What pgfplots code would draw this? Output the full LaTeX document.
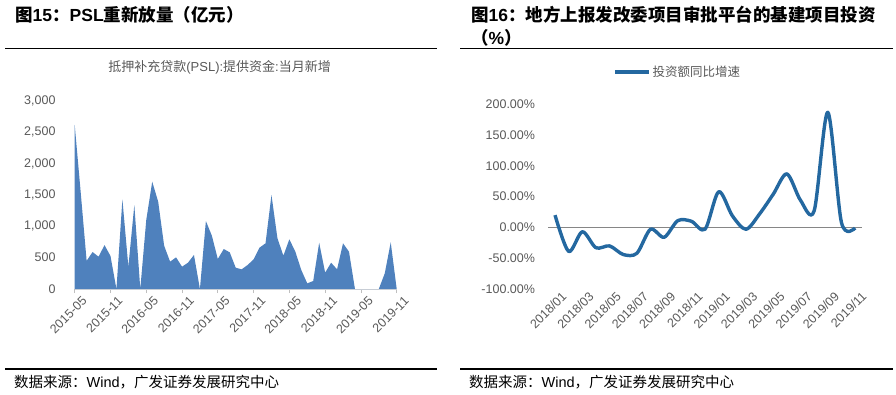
\documentclass[border=0pt]{standalone}
\usepackage{fontspec}
\setmainfont{Liberation Sans}
\newfontfamily\cjk{Noto Sans CJK SC}
\usepackage{pgfplots}
\pgfplotsset{compat=1.18}
\definecolor{areablue}{RGB}{79,129,189}
\definecolor{lineblue}{RGB}{36,104,160}
\definecolor{labelgray}{RGB}{89,89,89}
\definecolor{axisgray}{RGB}{217,217,217}
\definecolor{tickgray}{RGB}{191,191,191}
\definecolor{zerogray}{RGB}{134,134,134}
\begin{document}
\begin{tikzpicture}
\path[use as bounding box] (0,0) rectangle (896pt,-395pt);
% titles
\node[anchor=base west, inner sep=0pt, text=black] at (15pt,-22pt)
  {\fontsize{17.5}{20}\selectfont\bfseries{\cjk 图}15{\cjk ：}PSL{\cjk 重新放量（亿元）}};
\node[anchor=base west, inner sep=0pt, text=black] at (471pt,-22pt)
  {\fontsize{17.5}{20}\selectfont\bfseries{\cjk 图}16{\cjk ：地方上报发改委项目审批平台的基建项目投资}};
\node[anchor=base west, inner sep=0pt, text=black] at (471pt,-44.5pt)
  {\fontsize{17.5}{20}\selectfont\bfseries{\cjk （}\%{\cjk ）}};
\draw[line width=1.3pt] (5pt,-48.5pt) -- (437pt,-48.5pt);
\draw[line width=1.3pt] (460pt,-48.5pt) -- (893pt,-48.5pt);
\draw[line width=1.3pt] (5pt,-369pt) -- (437pt,-369pt);
\draw[line width=1.3pt] (460pt,-369pt) -- (893pt,-369pt);
\node[anchor=base west, inner sep=0pt] at (14pt,-387pt)
  {\fontsize{14.5}{16}\selectfont{\cjk 数据来源：}Wind{\cjk ，广发证券发展研究中心}};
\node[anchor=base west, inner sep=0pt] at (469pt,-387pt)
  {\fontsize{14.5}{16}\selectfont{\cjk 数据来源：}Wind{\cjk ，广发证券发展研究中心}};

% left chart
\begin{axis}[
  at={(74.7pt,-289pt)}, anchor=south west, scale only axis,
  width=322pt, height=188pt,
  xmin=0, xmax=54, ymin=0, ymax=3000,
  axis x line*=bottom, axis y line*=left,
  x axis line style={draw=axisgray, line width=1pt, -},
  y axis line style={draw=none},
  xtick={0,6,...,54},
  xticklabels={2015-05,2015-11,2016-05,2016-11,2017-05,2017-11,2018-05,2018-11,2019-05,2019-11},
  ytick={0,500,1000,1500,2000,2500,3000},
  yticklabels={0,500,{1,000},{1,500},{2,000},{2,500},{3,000}},
  tick label style={font=\fontsize{12.5}{14}\selectfont, text=labelgray},
  xtick style={draw=tickgray, line width=0.8pt},
  ytick style={draw=none},
  major tick length=4pt, tick align=outside,
  x tick label style={rotate=45, anchor=east, inner sep=0pt, xshift=3pt, yshift=-11pt},
  y tick label style={anchor=east, inner sep=0pt, xshift=-15pt},
  title={\fontsize{13}{15}\selectfont\color{labelgray}{\cjk 抵押补充贷款}(PSL):{\cjk 提供资金}:{\cjk 当月新增}},
  title style={at={(0.45,1.146)}, anchor=center, inner sep=0pt},
  clip=false,
]
\addplot[fill=areablue, draw=none] coordinates {
(0,2620) (1,1550) (2,450) (3,590) (4,516) (5,700) (6,527) (7,0) (8,1430) (9,356)
(10,1340) (11,0) (12,1100) (13,1713) (14,1394) (15,691) (16,436) (17,505) (18,356) (19,420)
(20,543) (21,0) (22,1085) (23,851) (24,479) (25,638) (26,585) (27,340) (28,314) (29,383)
(30,473) (31,660) (32,729) (33,1500) (34,809) (35,532) (36,793) (37,596) (38,303) (39,90)
(40,128) (41,739) (42,261) (43,420) (44,314) (45,729) (46,596) (47,0) (48,0) (49,0)
(50,0) (51,0) (52,250) (53,745) (54,0)
} \closedcycle;
\end{axis}

% right chart
\begin{axis}[
  at={(548.2pt,-289pt)}, anchor=south west, scale only axis,
  width=313.7pt, height=184.7pt,
  xmin=-0.5, xmax=22.5, ymin=-100, ymax=200,
  axis line style={draw=none},
  xtick={0,2,...,22},
  xticklabels={2018/01,2018/03,2018/05,2018/07,2018/09,2018/11,2019/01,2019/03,2019/05,2019/07,2019/09,2019/11},
  ytick={-100,-50,0,50,100,150,200},
  yticklabels={-100.00\%,-50.00\%,0.00\%,50.00\%,100.00\%,150.00\%,200.00\%},
  tick label style={font=\fontsize{12.5}{14}\selectfont, text=labelgray},
  tick style={draw=none},
  major tick length=0pt,
  x tick label style={rotate=45, anchor=east, inner sep=0pt, xshift=3pt, yshift=-10pt},
  y tick label style={anchor=east, inner sep=0pt, xshift=-13pt},
  legend style={at={(0.2066,1.175)}, anchor=west, draw=none, fill=none, inner sep=0pt,
    font=\fontsize{12.5}{14}\selectfont, text=labelgray},
  legend image code/.code={\draw[#1] (0pt,0pt) -- (34pt,0pt);},
  legend cell align=left,
  clip=false,
]
\addplot[zerogray, line width=1pt, forget plot] coordinates {(-0.5,0) (22.5,0)};
\addplot[lineblue, line width=3.4pt, smooth, line join=round] coordinates {
(0,20) (1,-39) (2,-7) (3,-33) (4,-30) (5,-44) (6,-42) (7,-3) (8,-16) (9,11)
(10,10) (11,-3) (12,58) (13,19) (14,-3) (15,22) (16,54) (17,87) (18,44) (19,27)
(20,187) (21,8) (22,-1)
};
\addlegendentry{\cjk 投资额同比增速}
\end{axis}
\end{tikzpicture}
\end{document}
